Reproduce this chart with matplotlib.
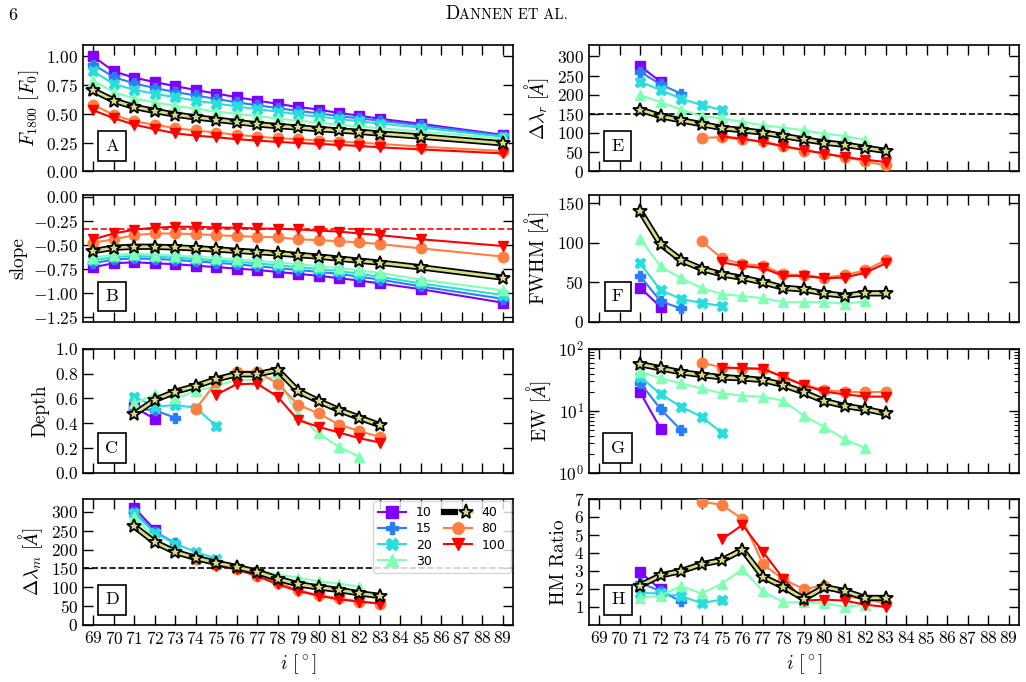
import numpy as np
import matplotlib
matplotlib.use("Agg")
import matplotlib.pyplot as plt
from matplotlib.legend_handler import HandlerTuple

plt.rcParams["font.family"] = "serif"
plt.rcParams["font.serif"] = ["cmr10", "DejaVu Serif"]
plt.rcParams["mathtext.fontset"] = "cm"
plt.rcParams["axes.formatter.use_mathtext"] = True
plt.rcParams["axes.unicode_minus"] = True

# series labels (legend) and x grids
labels = ["10", "15", "20", "30", "40", "80", "100"]
markers = ["s", "P", "X", "^", "*", "o", "v"]
x_full = [69, 70, 71, 72, 73, 74, 75, 76, 77, 78, 79, 80, 81, 82, 83, 85, 89]
x_sub = {
    "10": [71, 72],
    "15": [71, 72, 73],
    "20": [71, 72, 73, 74, 75],
    "30": list(range(71, 83)),
    "40": list(range(71, 84)),
    "80": list(range(74, 84)),
    "100": list(range(75, 84)),
}

# A: F_1800
f1800 = {
    "10": [1.00, 0.87, 0.815, 0.777, 0.742, 0.707, 0.677, 0.645, 0.616, 0.587, 0.56, 0.537, 0.507, 0.484, 0.457, 0.413, 0.317],
    "15": [0.93, 0.82, 0.765, 0.725, 0.69, 0.66, 0.63, 0.60, 0.575, 0.55, 0.525, 0.505, 0.48, 0.46, 0.44, 0.40, 0.31],
    "20": [0.87, 0.76, 0.71, 0.675, 0.645, 0.615, 0.59, 0.565, 0.54, 0.52, 0.495, 0.475, 0.455, 0.435, 0.415, 0.38, 0.30],
    "30": [0.79, 0.69, 0.635, 0.60, 0.57, 0.545, 0.52, 0.50, 0.48, 0.46, 0.44, 0.425, 0.405, 0.39, 0.375, 0.345, 0.285],
    "40": [0.704, 0.616, 0.56, 0.525, 0.493, 0.469, 0.449, 0.428, 0.408, 0.393, 0.381, 0.367, 0.355, 0.343, 0.328, 0.302, 0.243],
    "80": [0.58, 0.49, 0.434, 0.405, 0.375, 0.355, 0.337, 0.317, 0.302, 0.287, 0.279, 0.267, 0.258, 0.249, 0.238, 0.214, 0.176],
    "100": [0.53, 0.463, 0.405, 0.367, 0.33, 0.31, 0.296, 0.279, 0.267, 0.255, 0.246, 0.238, 0.229, 0.22, 0.208, 0.19, 0.155],
}

# B: slope
slope = {
    "10": [-0.73, -0.69, -0.68, -0.69, -0.70, -0.715, -0.73, -0.745, -0.76, -0.78, -0.80, -0.82, -0.845, -0.87, -0.90, -0.96, -1.10],
    "15": [-0.69, -0.65, -0.64, -0.645, -0.655, -0.67, -0.685, -0.70, -0.72, -0.74, -0.76, -0.78, -0.80, -0.83, -0.86, -0.93, -1.06],
    "20": [-0.66, -0.625, -0.615, -0.62, -0.63, -0.645, -0.66, -0.675, -0.69, -0.71, -0.73, -0.75, -0.77, -0.80, -0.83, -0.90, -1.02],
    "30": [-0.63, -0.60, -0.59, -0.60, -0.61, -0.62, -0.635, -0.65, -0.665, -0.68, -0.70, -0.72, -0.74, -0.765, -0.79, -0.86, -0.97],
    "40": [-0.563, -0.528, -0.518, -0.518, -0.525, -0.535, -0.546, -0.56, -0.573, -0.587, -0.604, -0.62, -0.642, -0.663, -0.684, -0.732, -0.839],
    "80": [-0.477, -0.44, -0.397, -0.38, -0.38, -0.387, -0.397, -0.407, -0.414, -0.42, -0.44, -0.449, -0.46, -0.473, -0.49, -0.535, -0.62],
    "100": [-0.44, -0.38, -0.34, -0.32, -0.31, -0.31, -0.318, -0.32, -0.328, -0.33, -0.338, -0.35, -0.36, -0.38, -0.397, -0.44, -0.51],
}
slope_ref = -1 / 3

# C: depth
depth = {
    "10": [0.53, 0.435],
    "15": [0.52, 0.505, 0.445],
    "20": [0.615, 0.534, 0.547, 0.526, 0.38],
    "30": [0.56, 0.633, 0.60, 0.66, 0.70, 0.75, 0.75, 0.776, 0.466, 0.318, 0.21, 0.13],
    "40": [0.474, 0.588, 0.655, 0.70, 0.755, 0.795, 0.795, 0.83, 0.66, 0.58, 0.507, 0.445, 0.385],
    "80": [0.515, 0.73, 0.817, 0.817, 0.72, 0.55, 0.48, 0.39, 0.337, 0.29],
    "100": [0.63, 0.715, 0.72, 0.615, 0.426, 0.372, 0.326, 0.28, 0.245],
}

# D: delta lambda_m
dlam_m = {
    "10": [311, 253],
    "15": [300, 247, 218],
    "20": [297, 244, 216, 194, 176],
    "30": [287, 229, 198, 176, 168, 159, 147, 134, 126, 116, 110, 101],
    "40": [262, 220, 194, 178, 165, 154, 141, 123, 108, 100, 93, 84, 77],
    "80": [175, 160, 148, 130, 112, 93, 79, 71, 62, 57],
    "100": [157, 148, 130, 108, 90, 78, 68, 62, 57],
}

# E: delta lambda_r
dlam_r = {
    "10": [275, 234],
    "15": [260, 227, 203],
    "20": [234, 212, 190, 173, 160],
    "30": [199, 181, 161, 144, 138, 129, 120, 114, 107, 98, 92, 82],
    "40": [161, 144, 133, 123, 113, 107, 101, 92, 83, 75, 69, 61, 53],
    "80": [87, 89, 83, 78, 65, 54, 46, 37, 26, 15],
    "100": [91, 85, 76, 65, 56, 46, 37, 30, 24],
}
dlam_ref = 150

# F: FWHM
fwhm = {
    "10": [43, 19],
    "15": [58, 26, 17],
    "20": [74, 40, 29, 24, 20],
    "30": [105, 70, 55, 43, 35, 32.5, 30, 25, 25, 25, 23, 26],
    "40": [140, 98, 78, 67, 60, 55.6, 50, 43, 41, 36, 33, 36, 36],
    "80": [102, 80, 73, 71, 60, 59, 56, 59, 65, 78],
    "100": [75, 70.5, 68, 58, 58, 55, 56, 62, 74],
}

# G: EW
ew = {
    "10": [19.9, 5.2],
    "15": [28.5, 10.7, 4.9],
    "20": [35.7, 18.7, 11.7, 8.05, 4.4],
    "30": [43, 33.5, 27.9, 23.1, 19.2, 17.6, 16.9, 14.6, 8.35, 5.5, 3.5, 2.5],
    "40": [56.5, 48.7, 42, 38, 34.8, 33.5, 31.5, 26.2, 19.9, 14.4, 12, 10.7, 9.1],
    "80": [60, 50, 48, 48, 34.5, 26.2, 21.7, 20.4, 19.9, 20.4],
    "100": [50, 49, 47.5, 35.5, 26, 20.4, 18.5, 17, 17],
}

# H: HM ratio
hm = {
    "10": [2.94, 1.97],
    "15": [2.34, 1.88, 1.32],
    "20": [1.78, 1.75, 1.6, 1.22, 1.41],
    "30": [1.5, 1.63, 2.16, 1.75, 2.3, 3.09, 1.88, 1.26, 1.26, 1.22, 1.0, 1.13],
    "40": [2.19, 2.75, 2.99, 3.37, 3.59, 4.17, 2.68, 2.12, 1.45, 2.1, 1.88, 1.5, 1.5],
    "80": [6.85, 6.66, 5.88, 3.37, 2.53, 2.0, 2.19, 1.63, 1.41, 1.22],
    "100": [4.76, 5.55, 4.06, 2.57, 1.35, 1.41, 1.35, 1.13, 1.0],
}

colors = plt.cm.rainbow(np.linspace(0, 1, len(labels)))

fig = plt.figure(figsize=(10.26, 6.82), dpi=100)

col_x = [0.081, 0.574]
col_w = 0.419
row_b = [0.749, 0.528, 0.3065, 0.0836]
row_h = [0.185, 0.186, 0.182, 0.185]


def draw(ax, data, full):
    handles = []
    for k, lab in enumerate(labels):
        xs = x_full if full else x_sub[lab]
        if lab == "40":
            # black casing under the khaki line
            casing, = ax.plot(xs, data[lab], color="k", lw=4.5, zorder=4)
            h, = ax.plot(xs, data[lab], marker=markers[k], color=colors[k], lw=2,
                         ms=10, mec="k", mew=1.3, zorder=5)
            handles.append((casing, h))
        else:
            h, = ax.plot(xs, data[lab], marker=markers[k], color=colors[k], lw=1.5,
                         ms=7.5, zorder=3 if lab in ("80", "100") else 2)
            handles.append(h)
    return handles


def style(ax, letter, bottom):
    ax.set_xlim(68.5, 89.5)
    ax.set_xticks(range(69, 90))
    ax.tick_params(which="major", direction="in", top=True, right=True,
                   length=7, width=1, labelsize=12.5, labelbottom=bottom)
    ax.tick_params(which="minor", direction="in", top=True, right=True,
                   length=3.5, width=0.8)
    for s in ax.spines.values():
        s.set_linewidth(1.2)
    ax.text(0.067, 0.2, letter, transform=ax.transAxes, fontsize=13,
            ha="center", va="center", zorder=10,
            bbox=dict(boxstyle="square,pad=0.4", fc="white", ec="k", lw=1.2))
    if bottom:
        ax.set_xlabel(r"$i\ [^\circ]$", fontsize=14)


panels = [
    (0, 0, f1800, True, "A", r"$F_{1800}\ [F_0]$"),
    (0, 1, slope, True, "B", "slope"),
    (0, 2, depth, False, "C", "Depth"),
    (0, 3, dlam_m, False, "D", r"$\Delta\lambda_m\ [\AA]$"),
    (1, 0, dlam_r, False, "E", r"$\Delta\lambda_r\ [\AA]$"),
    (1, 1, fwhm, False, "F", r"FWHM [$\AA$]"),
    (1, 2, ew, False, "G", r"EW [$\AA$]"),
    (1, 3, hm, False, "H", "HM Ratio"),
]

axes = {}
for c, r, data, full, letter, ylab in panels:
    ax = fig.add_axes([col_x[c], row_b[r], col_w, row_h[r]])
    hs = draw(ax, data, full)
    style(ax, letter, r == 3)
    ax.set_ylabel(ylab, fontsize=14)
    axes[letter] = (ax, hs)

ax = axes["A"][0]
ax.set_ylim(0, 1.1)
ax.set_yticks(np.arange(0, 1.01, 0.25))

ax = axes["B"][0]
ax.axhline(slope_ref, color=colors[-1], ls="--", lw=1.2, zorder=1)
ax.set_ylim(-1.3, 0.02)
ax.set_yticks(np.arange(-1.25, 0.01, 0.25))

ax = axes["C"][0]
ax.set_ylim(0, 1.0)
ax.set_yticks(np.arange(0, 1.01, 0.2))

ax, hs = axes["D"]
ax.axhline(dlam_ref, color="k", ls="--", lw=1.2, zorder=1)
ax.set_ylim(0, 335)
ax.set_yticks(range(0, 301, 50))
leg = ax.legend(hs, labels, ncol=2, loc="upper right",
                prop={"family": "DejaVu Sans", "size": 9},
                handler_map={tuple: HandlerTuple(ndivide=None)},
                handlelength=2.2, labelspacing=0.25, columnspacing=1.0,
                borderaxespad=0.2, framealpha=0.8, markerscale=1.1)
leg.set_zorder(20)

ax = axes["E"][0]
ax.axhline(dlam_ref, color="k", ls="--", lw=1.2, zorder=1)
ax.set_ylim(0, 330)
ax.set_yticks(range(0, 301, 50))

ax = axes["F"][0]
ax.set_ylim(0, 160)
ax.set_yticks([0, 50, 100, 150])

ax = axes["G"][0]
ax.set_yscale("log")
ax.set_ylim(1, 100)

ax = axes["H"][0]
ax.set_ylim(0, 7)
ax.set_yticks(range(1, 8))

# running header
fig.text(8 / 1026, 1 - 20 / 682, "6", fontsize=13, va="baseline", ha="left")
fig.text(445 / 1026, 1 - 19 / 682, "D", fontsize=13.5, va="baseline", ha="left")
fig.text(459 / 1026, 1 - 19 / 682, "ANNEN ET AL.", fontsize=10.5, va="baseline", ha="left")

fig.savefig("out.png", dpi=100)
